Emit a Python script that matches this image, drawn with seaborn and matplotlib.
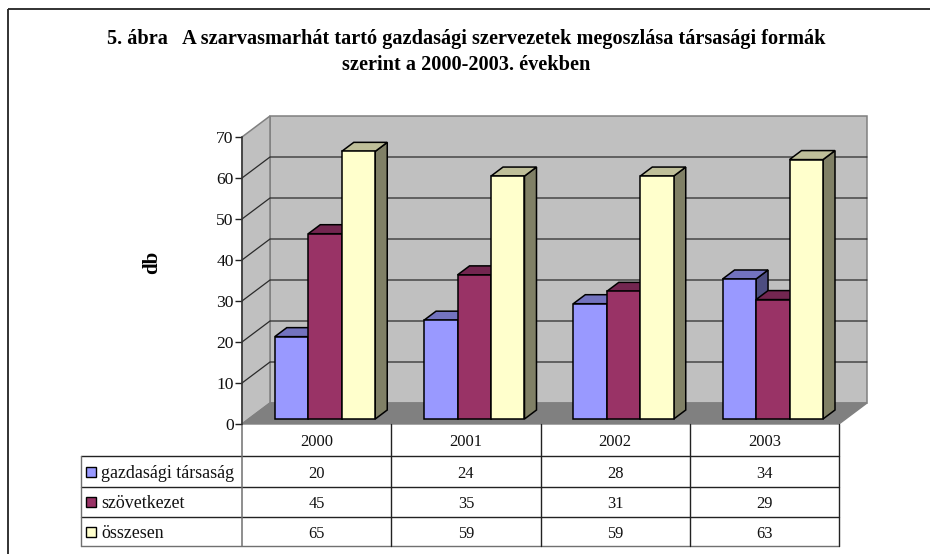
import matplotlib
matplotlib.use("Agg")
import matplotlib.pyplot as plt
from matplotlib.patches import Polygon, Rectangle
from matplotlib.transforms import IdentityTransform
import pandas as pd
import seaborn as sns

years = ["2000", "2001", "2002", "2003"]
gazdasagi = [20, 24, 28, 34]
szovetkezet = [45, 35, 31, 29]
osszesen = [65, 59, 59, 63]
series_names = ["gazdasági társaság", "szövetkezet", "összesen"]
series_values = [gazdasagi, szovetkezet, osszesen]
y_ticks = [0, 10, 20, 30, 40, 50, 60, 70]
title_lines = ["5. ábra   A szarvasmarhát tartó gazdasági szervezetek megoszlása társasági formák",
               "szerint a 2000-2003. években"]

front_colors = ["#9999FF", "#993366", "#FFFFCC"]
top_colors = ["#7373BF", "#732650", "#BFBF99"]
side_colors = ["#4D4D80", "#4D1A33", "#808066"]

sns.set_theme(style="white")
plt.rcParams["font.family"] = ["Liberation Serif", "DejaVu Serif"]

W, H = 930, 554
fig = plt.figure(figsize=(W / 100, H / 100), dpi=100, facecolor="white")


def box(left, top, right, bottom):
    return [left / W, 1 - bottom / H, (right - left) / W, (bottom - top) / H]


# Pixel layer for the frame, walls and data table
px = fig.add_axes([0, 0, 1, 1], zorder=0)
px.set_xlim(0, W)
px.set_ylim(H, 0)
px.axis("off")

FL, FR, F0, F70 = 242, 839, 424, 137   # front plane of the box
DX, DY = 28, 21                        # depth of the box
unit = (F0 - F70) / 70

# outer frame: only top and left edges are inside the picture
px.plot([7.5, 7.5], [9, H], color="#222222", lw=1.3, solid_capstyle="butt")
px.plot([7.5, W], [9, 9], color="#222222", lw=1.3, solid_capstyle="butt")

# walls and floor
px.add_patch(Polygon([(FL + DX, F70 - DY), (FR + DX, F70 - DY), (FR + DX, F0 - DY), (FL + DX, F0 - DY)],
                     fc="#C0C0C0", ec="#808080", lw=1.1))
px.add_patch(Polygon([(FL, F70), (FL + DX, F70 - DY), (FL + DX, F0 - DY), (FL, F0)],
                     fc="#C0C0C0", ec="#808080", lw=1.1))
px.add_patch(Polygon([(FL, F0), (FR, F0), (FR + DX, F0 - DY), (FL + DX, F0 - DY)],
                     fc="#808080", ec="#808080", lw=1))
for v in y_ticks[1:-1]:
    y = F0 - v * unit
    px.plot([FL, FL + DX, FR + DX], [y, y - DY, y - DY], color="#2A2A2A", lw=0.9)

# front-plane axes: the value axis
ax = fig.add_axes(box(FL, F70, FR, F0), zorder=1)
ax.patch.set_alpha(0)
ax.set_ylim(0, 70)
ax.set_xlim(0, 1)
ax.set_yticks(y_ticks)
ax.set_xticks([])
for s in ["top", "right", "bottom"]:
    ax.spines[s].set_visible(False)
ax.spines["left"].set_color("#333333")
ax.spines["left"].set_linewidth(1.1)
ax.tick_params(axis="y", left=True, length=5, width=1, color="#222222", pad=1,
               labelsize=12.6, labelcolor="#111111")

# bars: placed a little way into the box
BX, BY = 8.4, 5
bar_ax = fig.add_axes(box(FL + BX, F70 - BY, FR + BX, F0 - BY), zorder=2)
rows = [(yr, name, vals[i]) for name, vals in zip(series_names, series_values)
        for i, yr in enumerate(years)]
df = pd.DataFrame(rows, columns=["year", "series", "value"])
sns.barplot(data=df, x="year", y="value", hue="series", order=years, hue_order=series_names,
            palette=front_colors, width=0.673, gap=0, dodge=True, saturation=1,
            edgecolor="black", linewidth=1.1, legend=False, ax=bar_ax, zorder=5)
bar_ax.set_xlim(-0.5, 3.5)
bar_ax.set_ylim(0, 69.7)
bar_ax.axis("off")
fig.canvas.draw()

ddx, ddy = 12, 9    # bar depth, pixels
bars = []
for s_i, cont in enumerate(bar_ax.containers):
    for rect in cont:
        bars.append((rect.get_x(), s_i, rect))
bars.sort(key=lambda t: t[0])
for order, (_, s_i, rect) in enumerate(bars):
    x0, y1 = bar_ax.transData.transform((rect.get_x(), rect.get_height()))
    x1, y0 = bar_ax.transData.transform((rect.get_x() + rect.get_width(), 0))
    z = 5 + order
    rect.set_zorder(z + 0.5)
    rect.set_clip_on(False)
    side = Polygon([(x1, y0), (x1 + ddx, y0 + ddy), (x1 + ddx, y1 + ddy), (x1, y1)], closed=True,
                   fc=side_colors[s_i], ec="black", lw=1.1, transform=IdentityTransform(),
                   clip_on=False, zorder=z)
    top = Polygon([(x0, y1), (x1, y1), (x1 + ddx, y1 + ddy), (x0 + ddx, y1 + ddy)], closed=True,
                  fc=top_colors[s_i], ec="black", lw=1.1, transform=IdentityTransform(),
                  clip_on=False, zorder=z + 0.2)
    bar_ax.add_patch(side)
    bar_ax.add_patch(top)

# data table
TL = 81
row_y = [F0, 456, 487, 517, 546]
cat_w = (FR - FL) / len(years)
GR, BK = "#707070", "#222222"
px.plot([TL, FR], [row_y[1]] * 2, color=BK, lw=1)
px.plot([TL, FR], [row_y[2]] * 2, color=BK, lw=1)
px.plot([TL, FR], [row_y[3]] * 2, color=BK, lw=1)
px.plot([TL, FR], [row_y[4]] * 2, color=GR, lw=1)
px.plot([TL, TL], [row_y[1], row_y[4]], color=GR, lw=1)
px.plot([FL, FL], [row_y[0], row_y[4]], color=GR, lw=1.1)
for i in range(1, len(years) + 1):
    px.plot([FL + i * cat_w] * 2, [row_y[0], row_y[4]], color=BK, lw=1)

tbl_fs = 11.9
for i, yr in enumerate(years):
    cx = FL + (i + 0.5) * cat_w
    px.text(cx, (row_y[0] + row_y[1]) / 2 + 2, yr, ha="center", va="center", fontsize=tbl_fs, color="#111111")
    for r, vals in enumerate(series_values):
        px.text(cx, (row_y[r + 1] + row_y[r + 2]) / 2 + 2, str(vals[i]), ha="center", va="center",
                fontsize=tbl_fs, color="#111111")
for r, name in enumerate(series_names):
    cy = (row_y[r + 1] + row_y[r + 2]) / 2
    px.add_patch(Rectangle((86, cy - 5), 10, 10, fc=front_colors[r], ec="black", lw=1))
    px.text(101, cy + 2, name, ha="left", va="center", fontsize=12.9, color="#111111")

# titles
title_fs = 14.6
px.text(466, 39, title_lines[0], ha="center", va="center", fontsize=title_fs, fontweight="bold", color="black")
px.text(466, 65, title_lines[1], ha="center", va="center", fontsize=title_fs, fontweight="bold", color="black")
px.text(152.5, 262, "db", rotation=90, ha="center", va="center", fontsize=15, fontweight="bold", color="black")

fig.savefig("out.png", dpi=100, facecolor="white")
